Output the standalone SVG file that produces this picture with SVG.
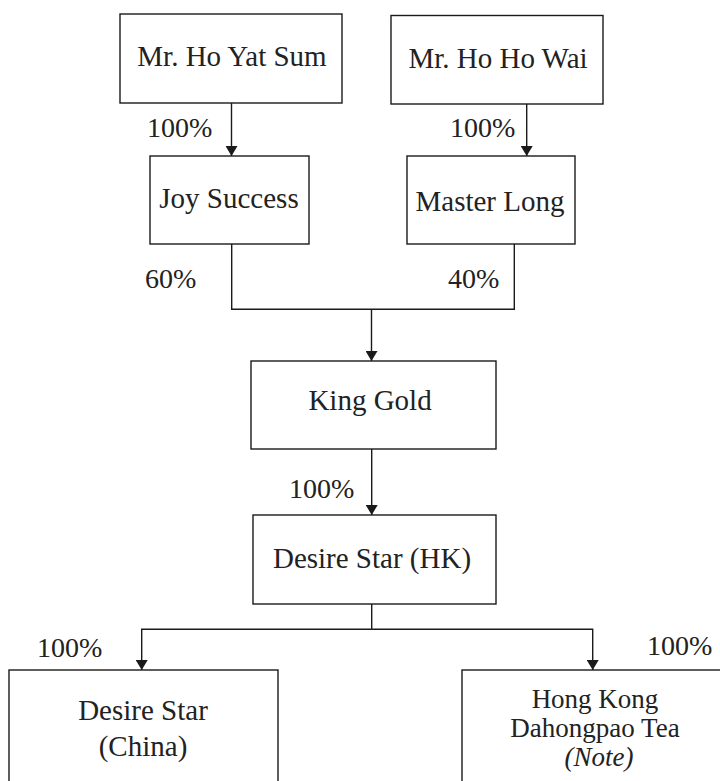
<svg xmlns="http://www.w3.org/2000/svg" width="720" height="781" viewBox="0 0 720 781">
  <style>
    .box { fill: #ffffff; stroke: #1a1a1a; stroke-width: 1.4; }
    .lbl { font-family: "Liberation Serif", "Times New Roman", serif; font-size: 29px; fill: #222222; text-anchor: middle; }
    .sm { font-size: 27px; }
    .pct { font-family: "Liberation Serif", "Times New Roman", serif; font-size: 28px; fill: #222222; }
    .conn { fill: none; stroke: #1a1a1a; stroke-width: 1.4; }
  </style>
  <defs>
    <marker id="arrow" markerUnits="userSpaceOnUse" markerWidth="11" markerHeight="12" refX="10" refY="6" orient="auto" viewBox="0 0 11 12">
      <path d="M0,0 L10,6 L0,12 z" fill="#1a1a1a"/>
    </marker>
  </defs>
  <rect width="720" height="781" fill="#ffffff"/>

  <g id="connectors">
    <path class="conn" d="M231.5,103 V156" marker-end="url(#arrow)"/>
    <path class="conn" d="M526.7,104 V156" marker-end="url(#arrow)"/>
    <path class="conn" d="M231.7,244 V309.3 H514.3 V244"/>
    <path class="conn" d="M371.5,309.3 V361" marker-end="url(#arrow)"/>
    <path class="conn" d="M371.7,449 V515" marker-end="url(#arrow)"/>
    <path class="conn" d="M371.7,604 V629.3"/>
    <path class="conn" d="M371.7,629.3 H141.7 V670" marker-end="url(#arrow)"/>
    <path class="conn" d="M371.7,629.3 H592.7 V670" marker-end="url(#arrow)"/>
  </g>

  <g id="labels">
    <text class="pct" x="147" y="137">100%</text>
    <text class="pct" x="450" y="137">100%</text>
    <text class="pct" x="145" y="288">60%</text>
    <text class="pct" x="448" y="288">40%</text>
    <text class="pct" x="289" y="498">100%</text>
    <text class="pct" x="37" y="657">100%</text>
    <text class="pct" x="647" y="655">100%</text>
  </g>

  <g id="node-ho-yat-sum">
    <rect class="box" x="120" y="14" width="222" height="89"/>
    <text class="lbl" x="232" y="66">Mr. Ho Yat Sum</text>
  </g>
  <g id="node-ho-ho-wai">
    <rect class="box" x="391" y="15.5" width="212" height="88.5"/>
    <text class="lbl" x="498" y="68">Mr. Ho Ho Wai</text>
  </g>
  <g id="node-joy-success">
    <rect class="box" x="150" y="156" width="159" height="88"/>
    <text class="lbl" x="229" y="208">Joy Success</text>
  </g>
  <g id="node-master-long">
    <rect class="box" x="407" y="156" width="168" height="88"/>
    <text class="lbl" x="490" y="211">Master Long</text>
  </g>
  <g id="node-king-gold">
    <rect class="box" x="251" y="361" width="245" height="88"/>
    <text class="lbl" x="370" y="410">King Gold</text>
  </g>
  <g id="node-desire-star-hk">
    <rect class="box" x="253" y="515" width="243" height="89"/>
    <text class="lbl" x="372" y="568">Desire Star (HK)</text>
  </g>
  <g id="node-desire-star-china">
    <rect class="box" x="9" y="670" width="269" height="130"/>
    <text class="lbl" x="143" y="720">Desire Star</text>
    <text class="lbl" x="143" y="756">(China)</text>
  </g>
  <g id="node-hk-dahongpao">
    <rect class="box" x="462" y="670" width="280" height="130"/>
    <text class="lbl sm" x="595" y="708">Hong Kong</text>
    <text class="lbl sm" x="595" y="737">Dahongpao Tea</text>
    <text class="lbl sm" x="599" y="766" font-style="italic">(Note)</text>
  </g>
</svg>
